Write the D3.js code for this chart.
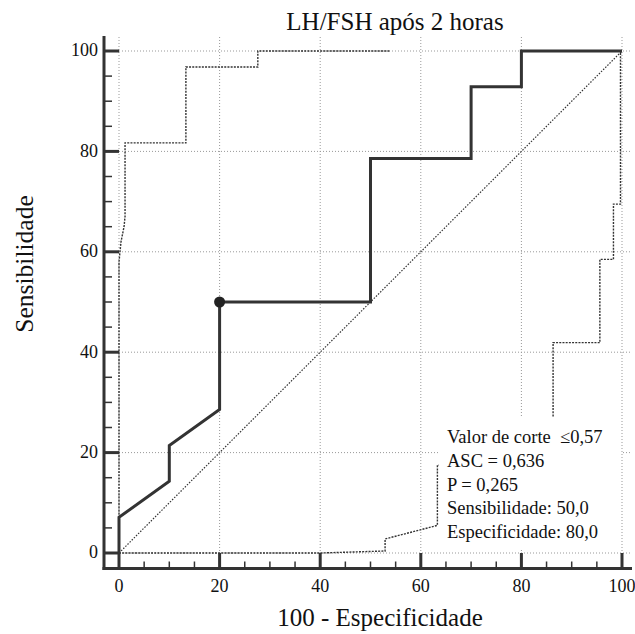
<!DOCTYPE html>
<html>
<head>
<meta charset="utf-8">
<script src="https://d3js.org/d3.v7.min.js"></script>
<style>
  html, body { margin: 0; padding: 0; background: #fff; }
  svg { display: block; font-family: "Liberation Serif", "Times New Roman", serif; }
</style>
</head>
<body>
<div id="chart"></div>
<script>
// ROC curve — LH/FSH após 2 horas
const rocPoints = [[0, 0], [0, 7.1], [10, 14.3], [10, 21.4], [20, 28.6], [20, 50], [50, 50],
  [50, 78.6], [70, 78.6], [70, 92.9], [80, 92.9], [80, 100], [100, 100]];
const upperBand = [[0, 0], [0, 58], [0.4, 62], [1, 65], [1.2, 67], [1.2, 81.7], [13.3, 81.7],
  [13.3, 96.8], [27.6, 96.8], [27.6, 100], [54, 100]];
const lowerBand = [[0, 0], [40, 0], [52.9, 0.4], [52.9, 2.8], [63.3, 5.5], [63.3, 17.5],
  [86.3, 17.5], [86.3, 41.9], [95.6, 41.9], [95.6, 58.5], [98.3, 58.5], [98.3, 69.5],
  [99.7, 69.5], [99.7, 100]];
const diagonal = [[0, 0], [100, 100]];
const cutoffPoint = [20, 50];
const majorTicks = [0, 20, 40, 60, 80, 100];
const minorTicks = d3.range(0, 101, 5).filter(v => v % 20 !== 0);
const legendLines = ['Valor de corte  \u22640,57', 'ASC = 0,636', 'P = 0,265',
  'Sensibilidade: 50,0', 'Especificidade: 80,0'];

const W = 635, H = 634;
const x = d3.scaleLinear().domain([0, 100]).range([119, 622]);
const y = d3.scaleLinear().domain([0, 100]).range([553, 51]);
const axisX = 104, axisY = 568.5;
const frameTop = 37, frameRight = 632;

const svg = d3.select('#chart').append('svg')
  .attr('width', W).attr('height', H);

// grid
const grid = svg.append('g').attr('stroke', '#999').attr('stroke-width', 1)
  .attr('stroke-dasharray', '1,2');
grid.selectAll('.gx').data(majorTicks).join('line')
  .attr('x1', d => x(d)).attr('x2', d => x(d))
  .attr('y1', frameTop).attr('y2', y(0));
grid.selectAll('.gy').data(majorTicks).join('line')
  .attr('x1', x(0)).attr('x2', frameRight)
  .attr('y1', d => y(d)).attr('y2', d => y(d));

const line = d3.line().x(d => x(d[0])).y(d => y(d[1]));

// diagonal
svg.append('path').datum(diagonal).attr('d', line)
  .attr('fill', 'none').attr('stroke', '#333').attr('stroke-width', 1.2)
  .attr('stroke-dasharray', '1.5,1.5');

// confidence bands
[upperBand, lowerBand].forEach(band => {
  svg.append('path').datum(band).attr('d', line)
    .attr('fill', 'none').attr('stroke', '#333').attr('stroke-width', 1.4)
    .attr('stroke-dasharray', '2,1.2');
});

// ROC curve
svg.append('path').datum(rocPoints).attr('d', line)
  .attr('fill', 'none').attr('stroke', '#333').attr('stroke-width', 3)
  .attr('stroke-linejoin', 'miter');

svg.append('circle')
  .attr('cx', x(cutoffPoint[0])).attr('cy', y(cutoffPoint[1])).attr('r', 5.5)
  .attr('fill', '#222');

// axes
const ax = svg.append('g').attr('stroke', '#333');
ax.append('line').attr('x1', axisX).attr('x2', axisX).attr('y1', 36).attr('y2', axisY + 1.5)
  .attr('stroke-width', 3);
ax.append('line').attr('x1', axisX - 1.5).attr('x2', frameRight).attr('y1', axisY).attr('y2', axisY)
  .attr('stroke-width', 3);
ax.selectAll('.ymaj').data(majorTicks).join('line')
  .attr('x1', axisX).attr('x2', x(0)).attr('y1', d => y(d)).attr('y2', d => y(d))
  .attr('stroke-width', 3);
ax.selectAll('.ymin').data(minorTicks).join('line')
  .attr('x1', axisX).attr('x2', axisX + 8).attr('y1', d => y(d)).attr('y2', d => y(d))
  .attr('stroke-width', 1.5);
ax.selectAll('.xmaj').data(majorTicks).join('line')
  .attr('x1', d => x(d)).attr('x2', d => x(d)).attr('y1', axisY).attr('y2', y(0))
  .attr('stroke-width', 3);
ax.selectAll('.xmin').data(minorTicks).join('line')
  .attr('x1', d => x(d)).attr('x2', d => x(d)).attr('y1', axisY).attr('y2', axisY - 7)
  .attr('stroke-width', 1.5);

// tick labels
svg.selectAll('.ylab').data(majorTicks).join('text')
  .attr('x', 98).attr('y', d => y(d)).attr('dy', '0.3em')
  .attr('text-anchor', 'end').attr('font-size', 18).attr('fill', '#111')
  .text(d => d);
svg.selectAll('.xlab').data(majorTicks).join('text')
  .attr('x', d => x(d)).attr('y', 592)
  .attr('text-anchor', 'middle').attr('font-size', 18).attr('fill', '#111')
  .text(d => d);

// titles
svg.append('text').attr('x', 395).attr('y', 30).attr('text-anchor', 'middle')
  .attr('font-size', 25).attr('fill', '#111').text('LH/FSH após 2 horas');
svg.append('text').attr('x', 380).attr('y', 626).attr('text-anchor', 'middle')
  .attr('font-size', 25).attr('fill', '#111').text('100 - Especificidade');
svg.append('text').attr('transform', 'translate(33,264) rotate(-90)')
  .attr('text-anchor', 'middle').attr('font-size', 25.5).attr('fill', '#111')
  .text('Sensibilidade');

// legend box
const lg = svg.append('g');
lg.append('rect').attr('x', 439).attr('y', 417).attr('width', 182).attr('height', 131)
  .attr('fill', '#fff');
lg.selectAll('text').data(legendLines).join('text')
  .attr('x', 447).attr('y', (d, i) => 443 + i * 23.8)
  .attr('font-size', 18.5).attr('fill', '#111')
  .style('white-space', 'pre')
  .text(d => d);
</script>
</body>
</html>
